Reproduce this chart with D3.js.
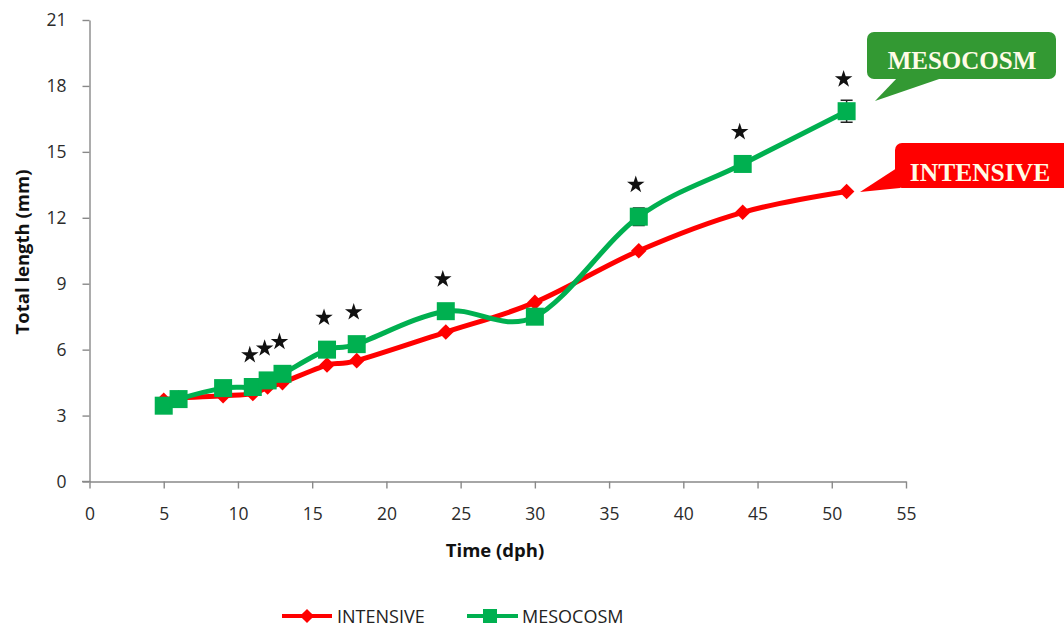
<!DOCTYPE html>
<html><head><meta charset="utf-8">
<script src="https://cdn.jsdelivr.net/npm/d3@7"></script>
<style>body{margin:0;background:#fff}svg{display:block}</style>
</head><body>
<svg id="c" width="1064" height="628"></svg>
<script>
const days = [5, 6, 9, 11, 12, 13, 16, 18, 24, 30, 37, 44, 51];
const intensive = [3.7, 3.8, 3.9, 4.0, 4.3, 4.5, 5.3, 5.5, 6.8, 8.15, 10.5, 12.25, 13.2];
const mesocosm = [3.45, 3.75, 4.25, 4.3, 4.6, 4.9, 6.0, 6.25, 7.75, 7.5, 12.05, 14.45, 16.85];
const mesoErr = [0, 0, 0, 0, 0, 0, 0, 0, 0, 0, 0.4, 0, 0.5];
const starDays = [11, 12, 13, 16, 18, 24, 37, 44, 51];
const xTicks = [0, 5, 10, 15, 20, 25, 30, 35, 40, 45, 50, 55];
const yTicks = [0, 3, 6, 9, 12, 15, 18, 21];
const seriesNames = ["INTENSIVE", "MESOCOSM"];

const svg = d3.select("#c");
const x = d3.scaleLinear().domain([0, 55]).range([89.5, 906]);
const y = d3.scaleLinear().domain([0, 21]).range([481.5, 20]);
const axisColor = "#898989";
const font = "'Open Sans', 'Liberation Sans', sans-serif";
const tickFont = 17.5;

// Y axis
const ya = svg.append("g").attr("transform", "translate(89.5,0)")
  .call(d3.axisLeft(y).tickValues(yTicks).tickSize(7).tickSizeOuter(0).tickPadding(16));
ya.select(".domain").attr("stroke", axisColor).attr("stroke-width", 1.4);
ya.selectAll(".tick line").attr("stroke", axisColor).attr("stroke-width", 1.4);
ya.selectAll(".tick text").attr("font-family", font).attr("font-size", tickFont).attr("fill", "#2b2b2b");

// X axis
const xa = svg.append("g").attr("transform", "translate(0,481.5)")
  .call(d3.axisBottom(x).tickValues(xTicks).tickSize(7).tickSizeOuter(0).tickPadding(19));
xa.select(".domain").attr("stroke", axisColor).attr("stroke-width", 1.4);
xa.selectAll(".tick line").attr("stroke", axisColor).attr("stroke-width", 1.4);
xa.selectAll(".tick text").attr("font-family", font).attr("font-size", tickFont).attr("fill", "#2b2b2b");
svg.append("line").attr("x1", 82).attr("x2", 90).attr("y1", 481.5).attr("y2", 481.5).attr("stroke", axisColor).attr("stroke-width", 1.4);

// axis titles
svg.append("text").attr("x", 495).attr("y", 557).attr("text-anchor", "middle")
  .attr("font-family", font).attr("font-weight", "bold").attr("font-size", 18.5).attr("fill", "#111").text("Time (dph)");
svg.append("text").attr("transform", "translate(29,252) rotate(-90)").attr("text-anchor", "middle")
  .attr("font-family", font).attr("font-weight", "bold").attr("font-size", 18.5).attr("fill", "#111").text("Total length (mm)");

const red = "#ff0000", green = "#00b050";
const line = d3.line().x(d => x(d[0])).y(d => y(d[1])).curve(d3.curveCardinal.tension(0));

const iData = days.map((d, i) => [d, intensive[i]]);
const mData = days.map((d, i) => [d, mesocosm[i], mesoErr[i]]);

svg.append("path").attr("d", line(iData)).attr("fill", "none").attr("stroke", red).attr("stroke-width", 5);
svg.selectAll(".dia").data(iData).enter().append("path")
  .attr("transform", d => `translate(${x(d[0])},${y(d[1])}) rotate(45)`)
  .attr("d", "M-5.5,-5.5H5.5V5.5H-5.5Z").attr("fill", red);

svg.append("path").attr("d", line(mData)).attr("fill", "none").attr("stroke", green).attr("stroke-width", 5);
const eb = mData.filter(d => d[2] > 0);
svg.selectAll(".eb").data(eb).enter().append("path")
  .attr("d", d => `M${x(d[0])},${y(d[1] + d[2])}V${y(d[1] - d[2])}M${x(d[0]) - 6},${y(d[1] + d[2])}H${x(d[0]) + 6}M${x(d[0]) - 6},${y(d[1] - d[2])}H${x(d[0]) + 6}`)
  .attr("stroke", "#222").attr("stroke-width", 1.5).attr("fill", "none");
svg.selectAll(".sq").data(mData).enter().append("rect")
  .attr("x", d => x(d[0]) - 9).attr("y", d => y(d[1]) - 9).attr("width", 18).attr("height", 18).attr("fill", green);

// significance stars
const star = d3.symbol().type(d3.symbolStar).size(95);
svg.selectAll(".star").data(starDays).enter().append("path")
  .attr("transform", d => {
    const i = days.indexOf(d);
    return `translate(${x(d) - 3},${y(mesocosm[i]) - 32})`;
  })
  .attr("d", star).attr("fill", "#111");

// callouts
svg.append("path").attr("d", "M875,101L898,77H945Z").attr("fill", "#339933");
svg.append("rect").attr("x", 867).attr("y", 32).attr("width", 189).attr("height", 47).attr("rx", 7).attr("fill", "#339933");
svg.append("text").attr("x", 962).attr("y", 69).attr("text-anchor", "middle")
  .attr("font-family", "'Liberation Serif', 'DejaVu Serif', serif").attr("font-weight", "bold").attr("font-size", 25)
  .attr("fill", "#fffbe6").text("MESOCOSM");

svg.append("path").attr("d", "M860,192L900,166V188Z").attr("fill", red);
svg.append("rect").attr("x", 895).attr("y", 143).attr("width", 190).attr("height", 45).attr("rx", 7).attr("fill", red);
svg.append("text").attr("x", 980).attr("y", 181).attr("text-anchor", "middle")
  .attr("font-family", "'Liberation Serif', 'DejaVu Serif', serif").attr("font-weight", "bold").attr("font-size", 25.5)
  .attr("fill", "#fffbe6").text("INTENSIVE");

// legend
const lg = svg.append("g");
lg.append("line").attr("x1", 282).attr("x2", 332).attr("y1", 616).attr("y2", 616).attr("stroke", red).attr("stroke-width", 4);
lg.append("path").attr("transform", "translate(307,616) rotate(45)").attr("d", "M-5,-5H5V5H-5Z").attr("fill", red);
lg.append("text").attr("x", 337).attr("y", 623).attr("font-family", font).attr("font-size", 18).attr("fill", "#222").text(seriesNames[0]);
lg.append("line").attr("x1", 467).attr("x2", 518).attr("y1", 616).attr("y2", 616).attr("stroke", green).attr("stroke-width", 4);
lg.append("rect").attr("x", 483).attr("y", 609).attr("width", 14).attr("height", 14).attr("fill", green);
lg.append("text").attr("x", 522).attr("y", 623).attr("font-family", font).attr("font-size", 18).attr("fill", "#222").text(seriesNames[1]);
</script>
</body></html>
